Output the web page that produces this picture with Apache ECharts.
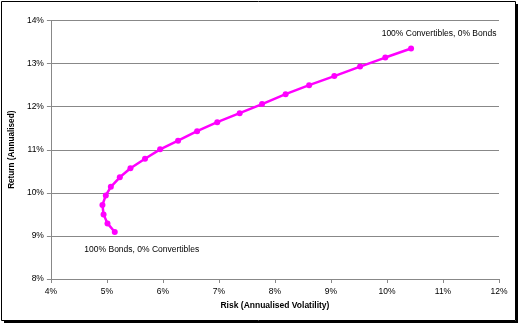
<!DOCTYPE html>
<html>
<head>
<meta charset="utf-8">
<script src="https://cdn.jsdelivr.net/npm/echarts@6/dist/echarts.min.js"></script>
<style>html,body{margin:0;padding:0;background:#fff}#c{width:520px;height:327px}</style>
</head>
<body>
<div id="c"></div>
<script>
// Risk (annualised volatility, %) from 100% Bonds to 100% Convertibles
const riskValues = [5.14, 5.01, 4.94, 4.92, 4.98, 5.07, 5.23, 5.42, 5.68, 5.95, 6.27, 6.61, 6.97, 7.37, 7.77, 8.19, 8.61, 9.06, 9.52, 9.97, 10.43];
// Return (annualised, %)
const returnValues = [9.09, 9.29, 9.50, 9.72, 9.94, 10.14, 10.36, 10.57, 10.79, 11.01, 11.21, 11.43, 11.64, 11.85, 12.06, 12.29, 12.50, 12.71, 12.93, 13.14, 13.35];
const startLabel = '100% Bonds, 0% Convertibles';
const endLabel = '100% Convertibles, 0% Bonds';
const xAxisTitle = 'Risk (Annualised Volatility)';
const yAxisTitle = 'Return (Annualised)';

const FONT = 'Liberation Sans, Arial, sans-serif';
const last = riskValues.length - 1;
const data = riskValues.map((x, i) => {
  const item = { value: [x, returnValues[i]] };
  if (i === 0) {
    item.label = { show: true, formatter: startLabel, position: 'inside', offset: [27, 18] };
  } else if (i === last) {
    item.label = { show: true, formatter: endLabel, position: 'inside', offset: [28, -15] };
  }
  return item;
});

const chart = echarts.init(document.getElementById('c'), null, { renderer: 'canvas' });
chart.setOption({
  backgroundColor: '#ffffff',
  animation: false,
  grid: { left: 50, right: 21, top: 20.5, bottom: 48, containLabel: false },
  xAxis: {
    type: 'value', min: 4, max: 12, interval: 1,
    name: xAxisTitle, nameLocation: 'middle', nameGap: 22,
    nameTextStyle: { fontFamily: FONT, fontSize: 8.5, fontWeight: 'bold', color: '#000' },
    axisLine: { show: true, lineStyle: { color: '#888', width: 1 } },
    axisTick: { show: true, inside: false, length: 4, lineStyle: { color: '#888' } },
    axisLabel: { formatter: v => v + '%', margin: 8, fontFamily: FONT, fontSize: 8.5, color: '#000' },
    splitLine: { show: false }
  },
  yAxis: {
    type: 'value', min: 8, max: 14, interval: 1,
    name: yAxisTitle, nameLocation: 'middle', nameGap: 27,
    nameTextStyle: { fontFamily: FONT, fontSize: 8.2, fontWeight: 'bold', color: '#000' },
    axisLine: { show: true, lineStyle: { color: '#888', width: 1 } },
    axisTick: { show: true, inside: false, length: 4, lineStyle: { color: '#888' } },
    axisLabel: { formatter: v => v + '%', margin: 7, fontFamily: FONT, fontSize: 8.5, color: '#000' },
    splitLine: { show: true, lineStyle: { color: '#888', width: 1 } }
  },
  series: [{
    type: 'line',
    data: data,
    smooth: false,
    symbol: 'circle',
    symbolSize: 6,
    lineStyle: { color: '#ff00ff', width: 2.5 },
    itemStyle: { color: '#ff00ff' },
    label: { fontFamily: FONT, fontSize: 8.5, color: '#000' },
    emphasis: { disabled: true }
  }],
  graphic: [
    { type: 'rect', shape: { x: 1.5, y: 1.5, width: 514, height: 319 }, style: { fill: null, stroke: '#000', lineWidth: 1 }, silent: true },
    { type: 'rect', shape: { x: 516, y: 4, width: 2, height: 319 }, style: { fill: '#000' }, silent: true },
    { type: 'rect', shape: { x: 4, y: 321, width: 514, height: 2 }, style: { fill: '#000' }, silent: true }
  ]
});
</script>
</body>
</html>
